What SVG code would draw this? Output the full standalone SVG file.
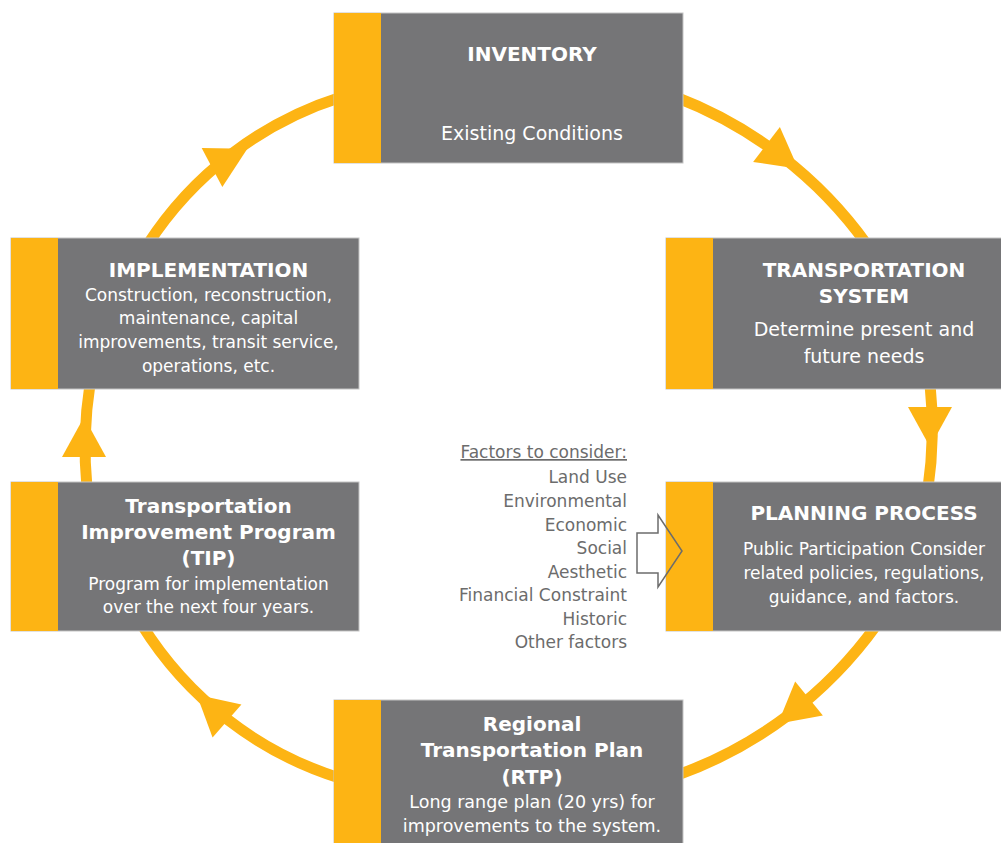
<svg xmlns="http://www.w3.org/2000/svg" xmlns:xlink="http://www.w3.org/1999/xlink" width="1001" height="843" viewBox="0 0 1001 843">
<style>
.box{fill:#757577;stroke:#c4c4c4;stroke-width:1}
.bar{fill:#FDB414}
.arc{fill:none;stroke:#FDB414;stroke-width:11}
.ah{fill:#FDB414}
.t{font-family:"DejaVu Sans",Verdana,sans-serif;font-weight:bold;font-size:20px;fill:#ffffff;text-anchor:middle}
.b{font-family:"DejaVu Sans",Verdana,sans-serif;fill:#ffffff;text-anchor:middle}
.f{font-family:"DejaVu Sans",Verdana,sans-serif;font-size:17px;fill:#6c6c6c;text-anchor:end}
</style>
<defs>
<path id="head" d="M0,-22 L40,0 L0,22 Z"/>
</defs>
<rect width="1001" height="843" fill="#ffffff"/>
<g id="connectors">
<path class="arc" d="M675.6,97 A420,420 0 0 1 866.8,244.4"/>
<path class="arc" d="M930,384 A420,420 0 0 1 928,488"/>
<path class="arc" d="M876.8,624.6 A420,420 0 0 1 675.5,775.8"/>
<path class="arc" d="M341,778.5 A360,360 0 0 1 141.6,624.4"/>
<path class="arc" d="M87,488 A420,420 0 0 1 90,384"/>
<path class="arc" d="M147.6,244.6 A360,360 0 0 1 341.4,97"/>
<use xlink:href="#head" class="ah" transform="translate(766.5,144.5) rotate(37.5)"/>
<use xlink:href="#head" class="ah" transform="translate(930,407) rotate(90)"/>
<use xlink:href="#head" class="ah" transform="translate(809,698.5) rotate(141)"/>
<use xlink:href="#head" class="ah" transform="translate(227,721) rotate(221)"/>
<use xlink:href="#head" class="ah" transform="translate(84,457) rotate(-90)"/>
<use xlink:href="#head" class="ah" transform="translate(212,167.5) rotate(-28)"/>
</g>
<g id="inventory">
<rect class="box" x="334" y="13" width="349" height="150"/>
<rect class="bar" x="334" y="13" width="47" height="150"/>
<text class="t" x="532" y="61">INVENTORY</text>
<text class="b" x="532" y="140" font-size="19">Existing Conditions</text>
</g>
<g id="transportation-system">
<rect class="box" x="666" y="238" width="349" height="151"/>
<rect class="bar" x="666" y="238" width="47" height="151"/>
<text class="t" x="864" y="277">TRANSPORTATION</text>
<text class="t" x="864" y="303">SYSTEM</text>
<text class="b" x="864" y="336" font-size="19">Determine present and</text>
<text class="b" x="864" y="363" font-size="19">future needs</text>
</g>
<g id="planning-process">
<rect class="box" x="666" y="482" width="349" height="149"/>
<rect class="bar" x="666" y="482" width="47" height="149"/>
<text class="t" x="864" y="520">PLANNING PROCESS</text>
<text class="b" x="864" y="555" font-size="17">Public Participation Consider</text>
<text class="b" x="864" y="579" font-size="17">related policies, regulations,</text>
<text class="b" x="864" y="603" font-size="17">guidance, and factors.</text>
</g>
<g id="rtp">
<rect class="box" x="334" y="700" width="349" height="150"/>
<rect class="bar" x="334" y="700" width="47" height="150"/>
<text class="t" x="532" y="731" font-size="19.3">Regional</text>
<text class="t" x="532" y="757" font-size="19.3">Transportation Plan</text>
<text class="t" x="532" y="784" font-size="19.3">(RTP)</text>
<text class="b" x="532" y="808" font-size="17.5">Long range plan (20 yrs) for</text>
<text class="b" x="532" y="832" font-size="17.5">improvements to the system.</text>
</g>
<g id="tip">
<rect class="box" x="11" y="482" width="348" height="149"/>
<rect class="bar" x="11" y="482" width="47" height="149"/>
<text class="t" x="208.5" y="513">Transportation</text>
<text class="t" x="208.5" y="539">Improvement Program</text>
<text class="t" x="208.5" y="565">(TIP)</text>
<text class="b" x="208.5" y="590" font-size="17">Program for implementation</text>
<text class="b" x="208.5" y="613" font-size="17">over the next four years.</text>
</g>
<g id="implementation">
<rect class="box" x="11" y="238" width="348" height="151"/>
<rect class="bar" x="11" y="238" width="47" height="151"/>
<text class="t" x="208.5" y="277">IMPLEMENTATION</text>
<text class="b" x="208.5" y="301" font-size="17">Construction, reconstruction,</text>
<text class="b" x="208.5" y="324" font-size="17">maintenance, capital</text>
<text class="b" x="208.5" y="348" font-size="17">improvements, transit service,</text>
<text class="b" x="208.5" y="372" font-size="17">operations, etc.</text>
</g>
<g id="factors">
<text class="f" x="627" y="458" text-decoration="underline">Factors to consider:</text>
<text class="f" x="627" y="483">Land Use</text>
<text class="f" x="627" y="507">Environmental</text>
<text class="f" x="627" y="531">Economic</text>
<text class="f" x="627" y="554">Social</text>
<text class="f" x="627" y="578">Aesthetic</text>
<text class="f" x="627" y="601">Financial Constraint</text>
<text class="f" x="627" y="625">Historic</text>
<text class="f" x="627" y="648">Other factors</text>
<polygon points="637,533 658,533 658,515 682,551 658,587 658,573 637,573" fill="none" stroke="#6c6c6c" stroke-width="1.5"/>
</g>
</svg>
